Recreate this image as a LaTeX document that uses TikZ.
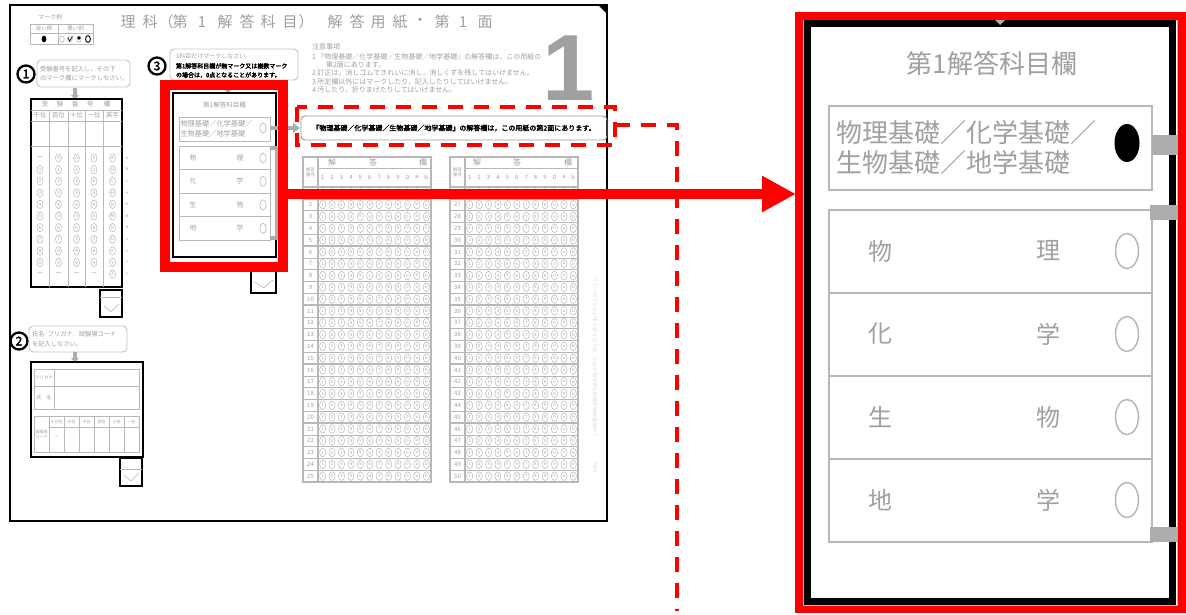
\documentclass[tikz,border=0pt]{standalone}
\usepackage{fontspec}
\setmainfont{Noto Sans CJK JP}
\newfontfamily\cjkb[FakeBold=2.5]{Noto Sans CJK JP}
\newfontfamily\lsans{Liberation Sans}
\usetikzlibrary{arrows.meta}
\newcommand\fsz[2]{\fontsize{#1}{#2}\selectfont}
\definecolor{fgray}{HTML}{A0A0A0}
\definecolor{lgray}{HTML}{B8B8B8}
\definecolor{bgray}{HTML}{C4C4C4}
\definecolor{tgray}{HTML}{ADADAD}
\definecolor{rred}{HTML}{FF0000}
\tikzset{
  ft/.style={text=fgray},
  gl/.style={draw=lgray,line width=0.6pt},
  gthick/.style={draw=lgray,line width=1.2pt},
  cell/.style={draw=lgray,line width=0.5pt},
  bubble/.style={draw=bgray,line width=0.9pt,rounded corners=4pt},
  garrow/.style={draw=tgray,line width=3.5pt,-{Triangle[length=4pt,width=8pt]}},
  blackbox/.style={draw=black,line width=2pt},
  chkbox/.style={draw=black,line width=1.6pt},
  rdash/.style={draw=rred,line width=3.5pt,dash pattern=on 15pt off 11pt},
  cnum/.style={circle,draw=black,line width=2.3pt,minimum size=17pt,font=\cjkb\fsz{12}{12}},
  bigrow/.style={draw=lgray,line width=1.5pt},
}
\begin{document}
\begin{tikzpicture}[x=1pt,y=-1pt,every node/.style={inner sep=0pt,outer sep=0pt}]
\useasboundingbox (0,0) rectangle (1186,614);
\fill[white] (0,0) rectangle (1186,614);

% ---------------- sheet ----------------
\draw[line width=2pt] (10,5) rectangle (607,521);
\fill (598,5) -- (607,5) -- (607,14) -- cycle;

% title
\foreach \x/\t in {128/理,150/科,166/（,180/第,202/1,225/解,247/答,268/科,290/目,306/）,335/解,357/答,378/用,400/紙,420/・,442/第,463/1,485/面}
  \node[ft,font=\fsz{15}{15}] at (\x,22) {\t};

% mark example
\node[ft,font=\fsz{6}{6}] (mrk) at (50,17) {マーク例};
\draw[gl] (30,24) rectangle (93,44);
\draw[gl] (30,33) -- (93,33);
\draw[gl] (58,24) -- (58,44);
\node[ft,font=\fsz{5.5}{5.5}] at (44,28.5) {良い例};
\node[ft,font=\fsz{5.5}{5.5}] at (75.5,28.5) {悪い例};
\fill (44,39) ellipse (2.4 and 3.3);
\draw[lgray,line width=0.6pt] (62,39) ellipse (2.2 and 3.2);
\draw[lgray,line width=0.6pt] (70,39) ellipse (2.2 and 3.2);
\draw[line width=0.7pt] (67.8,37.5) -- (69.6,41) -- (72.5,36.5);
\draw[lgray,line width=0.6pt] (79,39) ellipse (2.2 and 3.2);
\fill (79,38) circle (1.8);
\draw[line width=0.9pt] (88,39) ellipse (2.4 and 3.4);

% ---------------- (1) student number ----------------
\node[cnum] (n1) at (26,74) {1};
\draw[bubble] (37,60) rectangle (130,87);
\node[ft,font=\fsz{6.3}{9.5},align=left,anchor=west] (b1) at (40,73.5) {受験番号を記入し，その下\\のマーク欄にマークしなさい。};
\draw[garrow] (75,88) -- (75,99);
\draw[blackbox] (31,99) rectangle (122,287);
\foreach \x/\t in {45/受,60/験,75/番,90/号,107/欄}
  \node[ft,font=\fsz{6.5}{6.5}] at (\x,104.5) {\t};
\draw[gl] (31,110) -- (122,110);
\draw[gl] (31,121) -- (122,121);
\draw[gl] (31,146) -- (122,146);
\foreach \x in {49,68,85,103} \draw[gl] (\x,110) -- (\x,287);
\foreach \x/\t in {40/千位,58.5/百位,76.5/十位,94/一位,112.5/英字}
  \node[ft,font=\fsz{6.3}{6.3}] at (\x,115.5) {\t};
% column 1
\node[ft,font=\fsz{7}{7}] at (40,158) {－};
\node[ft,font=\fsz{7}{7}] at (40,274) {－};
\foreach \t in {1,...,9}{
  \draw[cell] (40,{158+11.6*\t}) ellipse (3 and 4.2);
  \node[ft,font=\fsz{4.5}{4.5}] at (40,{158+11.6*\t}) {\t};
}
% columns 2-4
\foreach \x in {58.5,76.5,94}{
  \foreach \t in {0,...,9}{
    \draw[cell] (\x,{158+11.6*\t}) ellipse (3 and 4.2);
    \node[ft,font=\fsz{4.5}{4.5}] at (\x,{158+11.6*\t}) {\t};
  }
  \node[ft,font=\fsz{7}{7}] at (\x,274) {－};
}
% column 5
\foreach \t [count=\i from 0] in {A,B,C,H,K,M,R,U,X,Y,Z}{
  \draw[cell] (112.5,{158+11.6*\i}) ellipse (3 and 4.2);
  \node[ft,font=\fsz{4.5}{4.5}] at (112.5,{158+11.6*\i}) {\t};
  \node[ft,font=\fsz{3.5}{3.5}] at (127,{158+11.6*\i}) {\t};
}

% ---------------- (2) name ----------------
\node[cnum] (n2) at (19,341) {2};
\draw[bubble] (29,326) rectangle (127,352);
\node[ft,font=\fsz{6.3}{9.5},align=left,anchor=west] (b2) at (32,339) {氏名･フリガナ，試験場コード\\を記入しなさい。};
\draw[garrow] (75,352) -- (75,362);
\draw[blackbox] (31,362) rectangle (143,457);
\draw[gl] (34,369) rectangle (139,409);
\draw[gl] (34,386) -- (139,386);
\draw[gl] (54,369) -- (54,409);
\node[ft,font=\fsz{4.5}{4.5}] at (44,377.5) {フリガナ};
\node[ft,font=\fsz{5}{5}] at (44,397.5) {氏　名};
\draw[gl] (34,416) rectangle (139,452);
\draw[gl] (49,427) -- (139,427);
\foreach \x in {49,64,79,94,109,124} \draw[gl] (\x,416) -- (\x,452);
\foreach \x/\t in {56.5/十万位,71.5/万位,86.5/千位,101.5/百位,116.5/十位,131.5/一位}
  \node[ft,font=\fsz{4}{4}] at (\x,421.5) {\t};
\node[ft,font=\fsz{4}{5},align=center] at (41.5,434) {試験場\\コード};
\node[ft,font=\fsz{5}{5}] at (56.5,437) {－};

% check boxes
\foreach \xa/\ya/\xb/\yb/\ym in {100/290/122/317/297,120/458/142/486/469,251/263/276/293/270}{
  \draw[chkbox] (\xa,\ya) rectangle (\xb,\yb);
  \draw[gl] (\xa,\ym) -- (\xb,\ym);
  \draw[gl] ({\xa+4},{\yb-11}) -- ({(\xa+\xb)/2},{\yb-5}) -- ({\xb-3},{\yb-13});
}

% ---------------- (3) first subject ----------------
\node[cnum] (n3) at (157,66) {3};
\draw[bubble] (170,49) rectangle (298,80);
\node[ft,font=\fsz{6}{6},anchor=west] (b3a) at (176,56.5) {1科目だけマークしなさい。};
\node[font=\cjkb\fsz{6}{9},align=left,anchor=west] (b3b) at (176,70.5) {第1解答科目欄が無マーク又は複数マーク\\の場合は，0点となることがあります。};
\draw[garrow] (228,83) -- (228,93);
\draw[blackbox] (173,93) rectangle (276,257);
\node[ft,font=\fsz{6.5}{6.5}] at (224.5,104.5) {第1解答科目欄};
\draw[gl] (179,117) rectangle (270,141);
\node[ft,font=\fsz{7.2}{7.2},anchor=west] at (180.5,123.5) {物理基礎／化学基礎／};
\node[ft,font=\fsz{7.2}{7.2},anchor=west] at (180.5,133.5) {生物基礎／地学基礎};
\draw[gl] (263,128) ellipse (3.2 and 5);
\draw[gl] (179,146) rectangle (270,240);
\foreach \y in {169.5,193,216.5} \draw[gl] (179,\y) -- (270,\y);
\foreach \y/\p/\q in {158/物/理,181.3/化/学,204.8/生/物,228.3/地/学}{
  \node[ft,font=\fsz{6.8}{6.8}] at (193,\y) {\p};
  \node[ft,font=\fsz{6.8}{6.8}] at (240,\y) {\q};
  \draw[gl] (263,\y) ellipse (3.2 and 5);
}
\fill[tgray] (275,146) rectangle (280,240);
\fill[tgray] (270,146) rectangle (280,150);
\fill[tgray] (270,236) rectangle (280,240);
\draw[tgray,line width=4pt,-{Triangle[length=7pt,width=10pt]}] (271,128) -- (300,128);

% ---------------- notes ----------------
\node[ft,font=\fsz{7}{7},anchor=west] at (312,47) {注意事項};
\node[ft,font=\fsz{7}{7},anchor=west] at (312,56.5) {1 『物理基礎／化学基礎／生物基礎／地学基礎』の解答欄は，この用紙の};
\node[ft,font=\fsz{7}{7},anchor=west] at (326,64.5) {第2面にあります。};
\node[ft,font=\fsz{7}{7},anchor=west] at (312,73) {2 訂正は，消しゴムできれいに消し，消しくずを残してはいけません。};
\node[ft,font=\fsz{7}{7},anchor=west] at (312,81.5) {3 所定欄以外にはマークしたり，記入したりしてはいけません。};
\node[ft,font=\fsz{7}{7},anchor=west] at (312,90) {4 汚したり，折りまげたりしてはいけません。};
\node[text=fgray,font=\lsans\bfseries\fsz{94}{94},anchor=base] at (569,100) {1};

% note box
\draw[draw=gray!80,line width=0.9pt,rounded corners=4pt] (301,116) rectangle (607,140);
\node[font=\cjkb\fsz{7}{7}] (nt) at (454,128) {『物理基礎／化学基礎／生物基礎／地学基礎』の解答欄は，この用紙の第2面にあります。};

% ---------------- answer tables ----------------
\foreach \xa/\xb/\xc/\na/\ha/\hb/\hc in {303/318/431/0/332/373/423,450/465/578/25/477/517/568}{
  \foreach \r in {1,...,25}{
    \pgfmathsetmacro\yc{181.1+11.8*\r}
    \pgfmathtruncatemacro\nn{\na+\r}
    \node[ft,font=\fsz{6}{6}] at ({(\xa+\xb)/2},\yc) {\nn};
    \foreach \k [count=\j from 0] in {1,2,3,4,5,6,7,8,9,0,a,b}{
      \draw[cell] ({\xb+4.7+9.42*\j},\yc) ellipse (3.1 and 4.3);
      \node[ft,font=\fsz{4.2}{4.2}] at ({\xb+4.7+9.42*\j},\yc) {\k};
    }
    \draw[gl] (\xa,{187+11.8*\r}) -- (\xc,{187+11.8*\r});
  }
  \foreach \r in {5,10,15,20} \draw[gthick] (\xa,{187+11.8*\r}) -- (\xc,{187+11.8*\r});
  \draw[gthick] (\xa,157) rectangle (\xc,482);
  \draw[gthick] (\xb,157) -- (\xb,482);
  \draw[gl] (\xb,168) -- (\xc,168);
  \draw[gthick] (\xa,187) -- (\xc,187);
  \node[ft,font=\fsz{8}{8}] at (\ha,162.5) {解};
  \node[ft,font=\fsz{8}{8}] at (\hb,162.5) {答};
  \node[ft,font=\fsz{8}{8}] at (\hc,162.5) {欄};
  \node[ft,font=\fsz{4.3}{5},align=center] at ({(\xa+\xb)/2},172) {解答\\番号};
  \foreach \k [count=\j from 0] in {1,2,3,4,5,6,7,8,9,0,a,b}
    \node[ft,font=\fsz{6}{6}] at ({\xb+4.7+9.42*\j},177) {\k};
}
\node[text=gray!30,font=\fsz{5}{5},rotate=90] at (595,355) {この解答用紙は機械で読み取るので，汚したり折りまげたりしないこと。};
\node[text=gray!30,font=\fsz{5}{5},rotate=90] at (595,468) {2025};

% ---------------- red highlights ----------------
\draw[rred,line width=10pt] (165,84.5) rectangle (283,267);
\coordinate (redR) at (288,194);
\coordinate (bigL) at (796,194);
\draw[rred,line width=10pt,-{Triangle[length=34pt,width=34pt]}] (redR) -- (bigL);
\draw[rdash] (297,107) rectangle (615,145);
\coordinate (dA) at (615,125);
\coordinate (dB) at (677,125);
\coordinate (dC) at (677,611);
\draw[rdash] (dA) -- (dB) -- (dC);

% ---------------- enlarged subject box ----------------
\draw[rred,line width=8pt] (799,15.5) rectangle (1182,609);
\draw[lgray,line width=1pt] (803.5,20) rectangle (1177.5,605.5);
\draw[black,line width=7pt] (807.5,23.5) rectangle (1172,601.5);
\fill[tgray] (995,20) -- (1005,20) -- (1000,25) -- cycle;
\node[ft,font=\fsz{26}{26}] (bigT) at (992,63) {第1解答科目欄};
\draw[bigrow] (829,106) rectangle (1152,190);
\node[ft,font=\fsz{26}{26},anchor=west] at (836,133) {物理基礎／化学基礎／};
\node[ft,font=\fsz{26}{26},anchor=west] at (836,163) {生物基礎／地学基礎};
\fill (1127,143) ellipse (12.5 and 19);
\fill[tgray] (1152,135) rectangle (1178,155);
\draw[bigrow] (829,210) rectangle (1152,542);
\foreach \y in {293,376,459} \draw[bigrow] (829,\y) -- (1153,\y);
\foreach \y/\p/\q in {251/物/理,334/化/学,417/生/物,500/地/学}{
  \node[ft,font=\fsz{24}{24}] at (880,\y) {\p};
  \node[ft,font=\fsz{24}{24}] at (1048,\y) {\q};
  \draw[bigrow] (1127,\y) ellipse (11.5 and 17.5);
}
\fill[tgray] (1150,205) rectangle (1178,220);
\fill[tgray] (1150,527) rectangle (1178,542);
\end{tikzpicture}
\end{document}
